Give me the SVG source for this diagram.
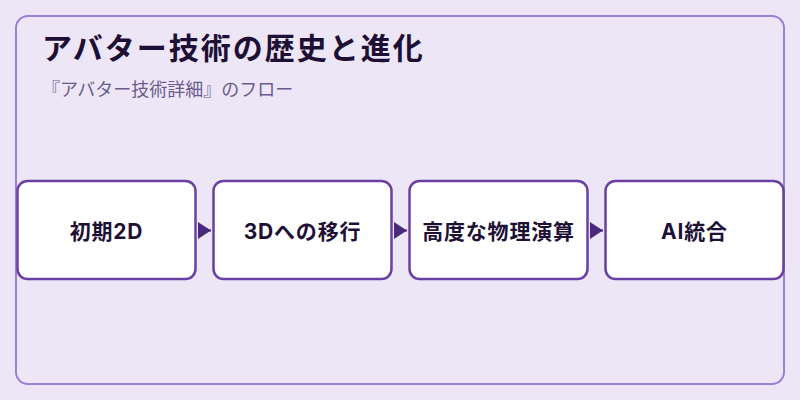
<svg xmlns="http://www.w3.org/2000/svg" width="800" height="400" viewBox="0 0 800 400">
  <defs>
    <style>
      .frame { fill: #ede6f6; stroke: #9c80d2; stroke-width: 2; }
      .title { font-family: Inter, "Noto Sans CJK JP", sans-serif; font-size: 30px; font-weight: 700; fill: #1e1035; letter-spacing: 2px; }
      .subtitle { font-family: Inter, "Noto Sans CJK JP", sans-serif; font-size: 18px; font-weight: 400; fill: #6b5b8e; }
      .node rect { fill: #ffffff; stroke: #6b40a3; stroke-width: 2.5; }
      .node text { font-family: Inter, "Noto Sans CJK JP", sans-serif; font-size: 21px; font-weight: 700; fill: #1e1035; text-anchor: middle; dominant-baseline: central; letter-spacing: 0.8px; }
      .conn { stroke: #4a2a7a; stroke-width: 2; fill: none; }
    </style>
    <marker id="arrow" markerWidth="14" markerHeight="18" refX="13" refY="8.5" orient="auto" markerUnits="userSpaceOnUse">
      <polygon points="0,0 13,8.5 0,17" fill="#4a2a7a"/>
    </marker>
  </defs>

  <rect x="0" y="0" width="800" height="400" fill="#ede6f6"/>
  <rect class="frame" x="16" y="16" width="768" height="368" rx="12" ry="12"/>

  <text class="title" x="42" y="59">アバター技術の歴史と進化</text>
  <text class="subtitle" x="42" y="96">『アバター技術詳細』のフロー</text>

  <g id="connectors">
    <line class="conn" x1="198" y1="230.5" x2="211" y2="230.5" marker-end="url(#arrow)"/>
    <line class="conn" x1="394" y1="230.5" x2="407" y2="230.5" marker-end="url(#arrow)"/>
    <line class="conn" x1="590" y1="230.5" x2="603" y2="230.5" marker-end="url(#arrow)"/>
  </g>

  <g id="node-1" class="node">
    <rect x="17.5" y="181" width="178" height="98" rx="10" ry="10"/>
    <text x="106.5" y="231">初期2D</text>
  </g>
  <g id="node-2" class="node">
    <rect x="213.5" y="181" width="178" height="98" rx="10" ry="10"/>
    <text x="302.5" y="231">3Dへの移行</text>
  </g>
  <g id="node-3" class="node">
    <rect x="409.5" y="181" width="178" height="98" rx="10" ry="10"/>
    <text x="498.5" y="231">高度な物理演算</text>
  </g>
  <g id="node-4" class="node">
    <rect x="605.5" y="181" width="178" height="98" rx="10" ry="10"/>
    <text x="694.5" y="231">AI統合</text>
  </g>
</svg>
